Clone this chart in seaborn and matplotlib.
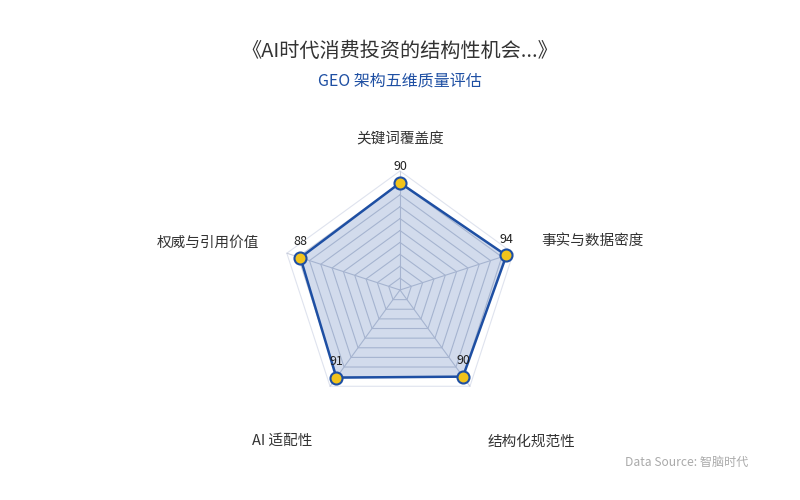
import numpy as np
import matplotlib
matplotlib.use("Agg")
import matplotlib.pyplot as plt
import seaborn as sns

indicators = ['关键词覆盖度', '事实与数据密度', '结构化规范性', 'AI 适配性', '权威与引用价值']
scores = [90, 94, 90, 91, 88]
max_score = 100
grid_levels = [10, 20, 30, 40, 50, 60, 70, 80, 90, 100]

title = '《AI时代消费投资的结构性机会...》'
subtitle = 'GEO 架构五维质量评估'
source = 'Data Source: 智脑时代'

sns.set_theme(style='white')
plt.rcParams['font.family'] = ['Noto Sans CJK SC', 'DejaVu Sans']

line_c = '#1e4fa3'
fill_c = '#1e4fa3'
dot_c = '#f2c31b'

fig = plt.figure(figsize=(8, 5), dpi=100)
ax = fig.add_axes([0, 0, 1, 1])
px = 1.19  # pixels per score unit
ax.set_xlim(-400 / px, 400 / px)
ax.set_ylim(-210 / px, 290 / px)
ax.set_aspect('equal')
ax.axis('off')

n = len(indicators)
ang = np.deg2rad(90 - 360 / n * np.arange(n))
cx, cy = np.cos(ang), np.sin(ang)

# grid polygons
for lv in grid_levels:
    gx = np.append(cx * lv, cx[0] * lv)
    gy = np.append(cy * lv, cy[0] * lv)
    sns.lineplot(x=gx, y=gy, sort=False, estimator=None, ax=ax,
                 color='#c8cddb' if lv < max_score else '#dfe3ee', lw=0.8, zorder=1)
for k in range(n):
    sns.lineplot(x=[0, cx[k] * max_score], y=[0, cy[k] * max_score], sort=False, estimator=None,
                 ax=ax, color='#c8cddb', lw=0.8, zorder=1)

vx = cx * np.array(scores)
vy = cy * np.array(scores)
ax.fill(vx, vy, color=fill_c, alpha=0.2, lw=0, zorder=2)
sns.lineplot(x=np.append(vx, vx[0]), y=np.append(vy, vy[0]), sort=False, estimator=None, ax=ax,
             color=line_c, lw=1.8, zorder=3)
sns.scatterplot(x=vx, y=vy, ax=ax, color=dot_c, edgecolor=line_c, linewidth=1.5, s=75, zorder=4)

# value labels
for k in range(n):
    ax.annotate(str(scores[k]), (vx[k], vy[k]), xytext=(0, 7), textcoords='offset points',
                ha='center', va='bottom', fontsize=9, color='#222222', zorder=5)

# indicator names
name_r = 121
name_pos = [(0, 0, 'center', 'bottom'), (3, 3, 'left', 'center'), (2, -20, 'left', 'top'),
            (-24, -20, 'center', 'top'), (-3, 2, 'right', 'center')]
for k in range(n):
    dx, dy, ha, va = name_pos[k]
    ax.annotate(indicators[k], (cx[k] * name_r, cy[k] * name_r), xytext=(dx, dy),
                textcoords='offset points', ha=ha, va=va, fontsize=10.5, color='#333333')

fig.text(0.5, 0.897, title, ha='center', va='center', fontsize=14.5, color='#333333')
fig.text(0.5, 0.838, subtitle, ha='center', va='center', fontsize=11.5, color='#1e4fa3')
fig.text(0.935, 0.076, source, ha='right', va='center', fontsize=8.7, color='#aaaaaa')

fig.savefig('out.png', dpi=100, facecolor='white')
